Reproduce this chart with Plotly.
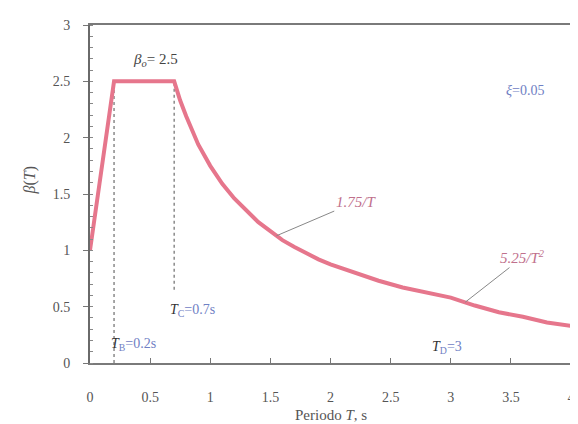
import plotly.graph_objects as go

# Spectrum curve
period = [0.0, 0.2, 0.7, 0.75, 0.8, 0.9, 1.0, 1.1, 1.2, 1.3, 1.4, 1.5, 1.6, 1.7, 1.8, 1.9,
          2.0, 2.2, 2.4, 2.6, 2.8, 3.0, 3.2, 3.4, 3.6, 3.8, 4.0]
beta = [1.0, 2.5, 2.5, 2.33, 2.19, 1.94, 1.75, 1.59, 1.46, 1.35, 1.25, 1.17, 1.09, 1.03, 0.97, 0.92,
        0.875, 0.80, 0.73, 0.67, 0.625, 0.58, 0.51, 0.45, 0.41, 0.36, 0.33]

# Characteristic periods
tb_x = [0.2, 0.2]
tb_y = [0.0, 2.5]
tc_x = [0.7, 0.7]
tc_y = [0.65, 2.5]

x_ticks = [0, 0.5, 1, 1.5, 2, 2.5, 3, 3.5, 4]
x_tick_text = ["0", "0.5", "1", "1.5", "2", "2.5", "3", "3.5", "4"]
y_ticks = [0, 0.5, 1, 1.5, 2, 2.5, 3]
y_tick_text = ["0", "0.5", "1", "1.5", "2", "2.5", "3"]

SERIF = "Liberation Serif"
CURVE = "#e6768c"
BLUE = "#6f80c4"
GREY = "#555555"

fig = go.Figure()
fig.add_trace(go.Scatter(x=tb_x, y=tb_y, mode="lines",
                         line=dict(color="#8a8a8a", width=1.5, dash="dot"), hoverinfo="skip"))
fig.add_trace(go.Scatter(x=tc_x, y=tc_y, mode="lines",
                         line=dict(color="#8a8a8a", width=1.5, dash="dot"), hoverinfo="skip"))
fig.add_trace(go.Scatter(x=period, y=beta, mode="lines",
                         line=dict(color=CURVE, width=4)))

ann = []
ann.append(dict(x=0.545, y=2.69, text="<i>β<sub>o</sub></i>= 2.5", showarrow=False,
                font=dict(family=SERIF, size=15, color="#444")))
ann.append(dict(x=3.62, y=2.42, text="<i>ξ</i>=0.05", showarrow=False,
                font=dict(family=SERIF, size=14, color=BLUE)))
ann.append(dict(x=1.55, y=1.75 / 1.55, ax=2.21, ay=1.43, axref="x", ayref="y",
                text="<i>1.75/T</i>", showarrow=True, arrowhead=0, arrowwidth=1,
                arrowcolor="#888", standoff=0, xanchor="center",
                font=dict(family=SERIF, size=15, color="#c0708c")))
ann.append(dict(x=3.12, y=5.25 / 3.12 ** 2, ax=3.6, ay=0.94, axref="x", ayref="y",
                text="<i>5.25/T<sup>2</sup></i>", showarrow=True, arrowhead=0, arrowwidth=1,
                arrowcolor="#888", standoff=0,
                font=dict(family=SERIF, size=15, color="#c0708c")))
ann.append(dict(x=0.85, y=0.47, showarrow=False,
                text="<span style='color:#333'><i>T</i></span><sub>C</sub>=0.7s",
                font=dict(family=SERIF, size=14, color=BLUE)))
ann.append(dict(x=0.36, y=0.16, showarrow=False,
                text="<span style='color:#333'><i>T</i></span><sub>B</sub>=0.2s",
                font=dict(family=SERIF, size=14, color=BLUE)))
ann.append(dict(x=2.97, y=0.14, showarrow=False,
                text="<span style='color:#333'><i>T</i></span><sub>D</sub>=3",
                font=dict(family=SERIF, size=14, color=BLUE)))
# axis titles
ann.append(dict(x=0.5, y=0, xref="paper", yref="paper", yanchor="middle", yshift=-52,
                showarrow=False, text="Periodo <i>T</i>, s",
                font=dict(family=SERIF, size=15, color=GREY)))
ann.append(dict(x=0, y=0.54, xref="paper", yref="paper", xanchor="center", xshift=-60,
                showarrow=False, text="<i>β</i>(<i>T</i>)", textangle=-90,
                font=dict(family=SERIF, size=16, color=GREY)))

# page body has an 8px margin; figure sized/offset so the plot box lands where the reference's is
fig.update_layout(
    width=570, height=416,
    margin=dict(l=82, r=3, t=17, b=61),
    paper_bgcolor="white", plot_bgcolor="white",
    showlegend=False,
    annotations=ann,
    xaxis=dict(range=[0, 4], tickvals=x_ticks, ticktext=x_tick_text,
               showgrid=False, zeroline=False, showline=True, mirror=True,
               linecolor="#7a7a7a", linewidth=1.5,
               ticks="inside", ticklen=5, tickcolor="#777",
               ticklabelstandoff=20,
               tickfont=dict(family=SERIF, size=14, color=GREY)),
    yaxis=dict(range=[0, 3], tickvals=y_ticks, ticktext=y_tick_text,
               showgrid=False, zeroline=False, showline=True, mirror=True,
               linecolor="#6a6a6a", linewidth=2,
               ticks="outside", ticklen=5, tickcolor="#777",
               ticklabelstandoff=10,
               minor=dict(dtick=0.1, ticks="inside", ticklen=3, tickcolor="#888"),
               tickfont=dict(family=SERIF, size=14, color=GREY)),
)

fig.write_html("out.html")
